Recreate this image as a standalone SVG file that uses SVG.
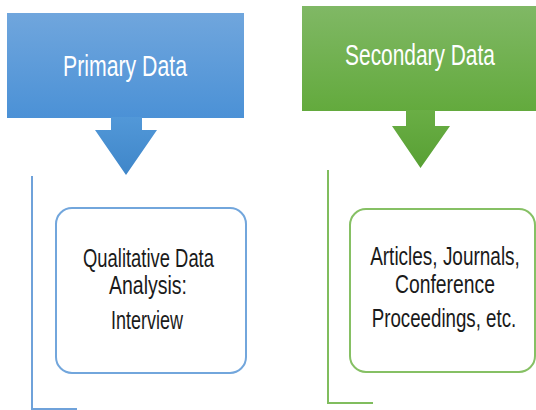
<svg xmlns="http://www.w3.org/2000/svg" width="536" height="410" viewBox="0 0 536 410">
<defs>
<linearGradient id="gb" x1="0" y1="0" x2="0" y2="1"><stop offset="0" stop-color="#70a6dd"/><stop offset="1" stop-color="#4b91d6"/></linearGradient>
<linearGradient id="gg" x1="0" y1="0" x2="0" y2="1"><stop offset="0" stop-color="#80b865"/><stop offset="1" stop-color="#63aa3d"/></linearGradient>
<linearGradient id="ab" x1="0" y1="0" x2="0" y2="1"><stop offset="0" stop-color="#5298d8"/><stop offset="1" stop-color="#3f86c9"/></linearGradient>
<linearGradient id="ag" x1="0" y1="0" x2="0" y2="1"><stop offset="0" stop-color="#6aae45"/><stop offset="1" stop-color="#58a034"/></linearGradient>
<style>
.hd{font-family:"Liberation Sans",Arial,sans-serif;font-size:29px;fill:#ffffff;text-anchor:middle}
.bx{font-family:"Liberation Sans",Arial,sans-serif;font-size:26px;fill:#1a1a1a;text-anchor:middle}
.ln{fill:none;stroke-width:2}
</style>
</defs>
<rect width="536" height="410" fill="#ffffff"/>
<g id="primary">
<rect x="7" y="13" width="237" height="105" fill="url(#gb)"/>
<text class="hd" transform="translate(125,76) scale(0.733,1)">Primary Data</text>
</g>
<g id="secondary">
<rect x="302" y="6" width="236" height="105" fill="url(#gg)"/>
<text class="hd" transform="translate(420,65) scale(0.721,1)">Secondary Data</text>
</g>
<g id="connectors">
<polygon points="111,117 142,117 142,130 157,130 126,175 95,130 111,130" fill="url(#ab)"/>
<polygon points="406,110 435,110 435,126 450,126 420.5,168 392,126 406,126" fill="url(#ag)"/>
<polyline class="ln" points="32,176 32,409 77,409" stroke="#6fa2da"/>
<polyline class="ln" points="328,170 328,403 373,403" stroke="#80bd5e"/>
</g>
<g id="qualitative">
<rect x="56" y="208" width="190" height="165" rx="16" fill="#ffffff" stroke="#72a6dc" stroke-width="2"/>
<text class="bx" transform="translate(148.5,266.5) scale(0.708,1)">Qualitative Data</text>
<text class="bx" transform="translate(148,294) scale(0.75,1)">Analysis:</text>
<text class="bx" transform="translate(147,329) scale(0.692,1)">Interview</text>
</g>
<g id="articles">
<rect x="350" y="209" width="185" height="163" rx="16" fill="#ffffff" stroke="#86c064" stroke-width="2"/>
<text class="bx" transform="translate(445,265) scale(0.73,1)">Articles, Journals,</text>
<text class="bx" transform="translate(445,292.5) scale(0.744,1)">Conference</text>
<text class="bx" transform="translate(444,327) scale(0.72,1)">Proceedings, etc.</text>
</g>
</svg>
